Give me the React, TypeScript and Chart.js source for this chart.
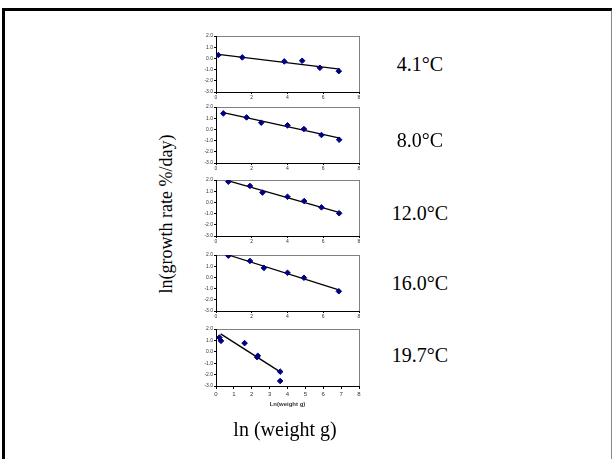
import React, { useEffect, useRef } from "react";
import { Chart, registerables } from "chart.js";
Chart.register(...registerables);

// Temperature labels
const temps = ["4.1°C", "8.0°C", "12.0°C", "16.0°C", "19.7°C"];

// 4.1°C
const x41 = [0.13, 1.47, 3.82, 4.82, 5.81, 6.87];
const y41 = [0.3, 0.09, -0.27, -0.21, -0.84, -1.14];
const tx41 = [0.13, 6.93];
const ty41 = [0.36, -0.96];

// 8.0°C
const x80 = [0.41, 1.71, 2.53, 4.0, 4.92, 5.9, 6.89];
const y80 = [1.43, 1.07, 0.6, 0.36, 0.03, -0.5, -0.92];
const tx80 = [0.41, 6.93];
const ty80 = [1.49, -0.77];

// 12.0°C
const x120 = [0.69, 1.9, 2.6, 4.0, 4.93, 5.9, 6.89];
const y120 = [1.85, 1.47, 0.88, 0.5, 0.12, -0.44, -0.97];
const tx120 = [0.65, 6.93];
const ty120 = [1.94, -0.91];

// 16.0°C
const x160 = [0.69, 1.9, 2.68, 4.0, 4.92, 6.87];
const y160 = [1.94, 1.47, 0.85, 0.41, -0.03, -1.24];
const tx160 = [0.69, 6.87];
const ty160 = [2.0, -1.12];

// 19.7°C
const x197 = [0.19, 0.28, 1.6, 2.34, 2.3, 3.59, 3.59];
const y197 = [1.25, 0.96, 0.76, -0.35, -0.47, -1.74, -2.56];
const tx197 = [0.26, 3.57];
const ty197 = [1.57, -1.74];

const yTicks = [2, 1, 0, -1, -2, -3];

const panels = [
  { xs: x41, ys: y41, tx: tx41, ty: ty41, top: 36, label: temps[0], labelY: 64 },
  { xs: x80, ys: y80, tx: tx80, ty: ty80, top: 107, label: temps[1], labelY: 140 },
  { xs: x120, ys: y120, tx: tx120, ty: ty120, top: 180, label: temps[2], labelY: 213 },
  { xs: x160, ys: y160, tx: tx160, ty: ty160, top: 255, label: temps[3], labelY: 283 },
  { xs: x197, ys: y197, tx: tx197, ty: ty197, top: 329, label: temps[4], labelY: 355 },
];

const framePlugin = {
  id: "plotFrame",
  beforeDraw(chart: any) {
    const { ctx, chartArea } = chart;
    ctx.save();
    ctx.strokeStyle = "#808080";
    ctx.lineWidth = 1;
    ctx.strokeRect(chartArea.left + 0.5, chartArea.top + 0.5, chartArea.right - chartArea.left, chartArea.bottom - chartArea.top);
    ctx.restore();
  },
};

const PAD_TOP = 6;
const CANVAS_LEFT = 190;
const CANVAS_W = 176;

function Panel(props: any) {
  const { xs, ys, tx, ty, top, last } = props;
  const ref = useRef<HTMLCanvasElement>(null);
  const plotH = last ? 57 : 56;
  const axisH = last ? 22 : 12;
  const h = PAD_TOP + plotH + axisH;
  useEffect(() => {
    const chart = new Chart(ref.current as HTMLCanvasElement, {
      type: "scatter",
      data: {
        datasets: [
          {
            data: xs.map((x: number, i: number) => ({ x, y: ys[i] })),
            pointStyle: "rectRot",
            pointRadius: 2.8,
            backgroundColor: "#000080",
            borderColor: "#000080",
            showLine: false,
            order: 0,
          },
          {
            data: tx.map((x: number, i: number) => ({ x, y: ty[i] })),
            showLine: true,
            pointRadius: 0,
            borderColor: "#000000",
            borderWidth: 1.3,
            order: 1,
          },
        ],
      },
      options: {
        responsive: false,
        animation: false,
        layout: { padding: { top: PAD_TOP, right: CANVAS_W - 26 - 143, left: 0, bottom: 0 } },
        plugins: { legend: { display: false }, tooltip: { enabled: false } },
        scales: {
          x: {
            type: "linear",
            min: 0,
            max: 8,
            ticks: {
              stepSize: last ? 1 : 2,
              font: { size: last ? 6 : 5, family: "Liberation Sans" },
              color: "#333",
              padding: last ? 2 : 1,
              maxRotation: 0,
            },
            grid: { display: true, drawOnChartArea: false, tickLength: last ? 3 : 2, color: "#000" },
            border: { color: "#000", width: 1 },
            title: {
              display: !!last,
              text: "Ln(weight g)",
              font: { size: 6, weight: "bold", family: "Liberation Sans" },
              color: "#333",
              padding: { top: 2, bottom: 0 },
            },
            afterFit: (s: any) => {
              s.height = axisH;
              s.paddingLeft = 0;
              s.paddingRight = 0;
            },
          },
          y: {
            min: -3,
            max: 2,
            afterBuildTicks: (s: any) => {
              s.ticks = yTicks.map((v) => ({ value: v }));
            },
            ticks: {
              callback: (v: any) => Number(v).toFixed(1),
              font: { size: 5, family: "Liberation Sans" },
              color: "#333",
              padding: 1,
            },
            grid: { display: true, drawOnChartArea: false, tickLength: 2, color: "#000" },
            border: { color: "#000", width: 1 },
            afterFit: (s: any) => {
              s.width = 26;
              s.paddingTop = 0;
              s.paddingBottom = 0;
            },
          },
        },
      } as any,
      plugins: [framePlugin],
    });
    return () => chart.destroy();
  }, []);
  return (
    <canvas
      ref={ref}
      width={CANVAS_W}
      height={h}
      style={{ position: "absolute", left: CANVAS_LEFT, top: top - PAD_TOP, width: CANVAS_W, height: h }}
    />
  );
}

const textStyle: any = {
  position: "absolute",
  fontFamily: "'Liberation Serif', 'Times New Roman', serif",
  fontSize: 20,
  color: "#000",
  whiteSpace: "nowrap",
  transform: "translate(-50%, -50%)",
  lineHeight: 1,
};

export default function App() {
  return (
    <div style={{ position: "fixed", left: 0, top: 0, width: 612, height: 459, background: "#fff", overflow: "hidden" }}>
      <div
        style={{
          position: "absolute",
          left: 2,
          top: 8,
          width: 606,
          height: 470,
          borderLeft: "3px solid #000",
          borderTop: "3px solid #000",
          borderRight: "2px solid #888",
        }}
      />
      {panels.map((p, i) => (
        <Panel key={i} {...p} last={i === panels.length - 1} />
      ))}
      {panels.map((p, i) => (
        <div key={"t" + i} style={{ ...textStyle, left: 420, top: p.labelY }}>
          {p.label}
        </div>
      ))}
      <div style={{ ...textStyle, fontSize: 18, left: 166, top: 214, transform: "translate(-50%, -50%) rotate(-90deg)" }}>
        ln(growth rate %/day)
      </div>
      <div style={{ ...textStyle, left: 285, top: 429 }}>ln (weight g)</div>
    </div>
  );
}
